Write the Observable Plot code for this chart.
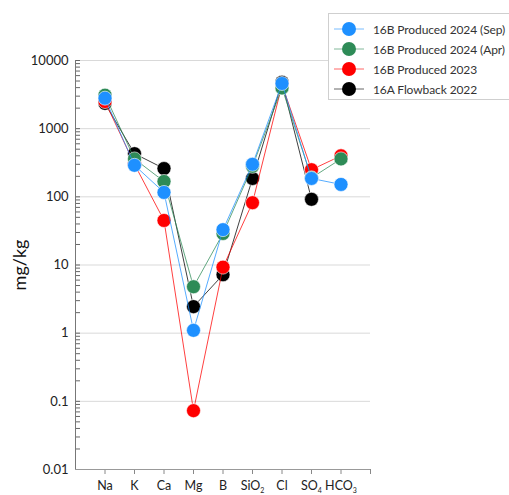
<!DOCTYPE html>
<html><head><meta charset="utf-8">
<script src="https://cdn.jsdelivr.net/npm/d3@7"></script>
<script src="https://cdn.jsdelivr.net/npm/@observablehq/plot@0.6"></script>
<style>
body{margin:0;background:#fff;font-family:Lato,"Open Sans",sans-serif;}
#wrap{position:relative;width:509px;height:495px;overflow:hidden;}
#legend{position:absolute;left:328px;top:13px;width:200px;height:87px;border:1px solid #cfcfcf;background:#fff;box-sizing:border-box;}
.lg{position:absolute;left:4px;height:20px;display:flex;align-items:center;font-size:12px;letter-spacing:-0.1px;color:#333;white-space:nowrap;}
.lg svg{margin-right:8px;}
</style></head>
<body><div id="wrap"><div id="chart"></div><div id="legend"></div></div>
<script>
const categories = ["Na","K","Ca","Mg","B","SiO₂","Cl","SO₄","HCO₃"];
const seriesNames = ["16B Produced 2024 (Sep)","16B Produced 2024 (Apr)","16B Produced 2023","16A Flowback 2022"];
const seriesColors = ["#1e90ff","#2e8b57","#ff0000","#000000"];
const sep2024 = [2800, 290, 116, 1.1, 33, 300, 4600, 186, 152];
const apr2024 = [3100, 360, 168, 4.8, 29, 280, 3950, 190, 360];
const prod2023 = [2500, 300, 45, 0.073, 9.3, 82, 4400, 250, 400];
const flow2022 = [2350, 430, 260, 2.45, 7.2, 186, 4800, 92, null];
const majorTicks = [0.01, 0.1, 1, 10, 100, 1000, 10000];
const majorLabels = ["0.01","0.1","1","10","100","1000","10000"];

const seriesValues = [sep2024, apr2024, prod2023, flow2022];
const rows = [];
seriesValues.forEach((vals, s) => vals.forEach((v, i) => {
  if (v != null) rows.push({series: seriesNames[s], color: seriesColors[s], xi: i + 1, v, order: s});
}));
const minorTicks = [];
for (let e = -2; e < 4; e++) for (let m = 1; m <= 9; m++) minorTicks.push(m * Math.pow(10, e));
minorTicks.push(10000);

const drawOrder = [3, 2, 1, 0];
const seriesMarks = drawOrder.flatMap(s => {
  const d = rows.filter(r => r.order === s);
  return [
    Plot.line(d, {x: "xi", y: "v", stroke: seriesColors[s], strokeWidth: 1, strokeOpacity: 0.75}),
    Plot.dot(d, {x: "xi", y: "v", r: 7, fill: seriesColors[s], stroke: "#ffffff", strokeWidth: 0.6})
  ];
});

const chart = Plot.plot({
  width: 509, height: 495,
  marginTop: 60, marginBottom: 26, marginLeft: 75, marginRight: 139,
  style: {fontFamily: "Lato, 'Open Sans', sans-serif", fontSize: "13px", color: "#222", background: "#fff"},
  x: {type: "linear", domain: [0, 10], axis: null},
  y: {type: "log", domain: [0.01, 10000], axis: null},
  marks: [
    Plot.ruleY(majorTicks, {stroke: "#d9d9d9", strokeWidth: 1}),
    Plot.axisY(minorTicks, {anchor: "left", tickSize: 5, dx: 5, tickFormat: () => "", stroke: "#666", label: null}),
    Plot.axisY(majorTicks, {anchor: "left", tickSize: 0, tickPadding: 7, tickFormat: d => majorLabels[majorTicks.indexOf(d)], label: null, fontSize: 13}),
    Plot.axisX(d3.range(1, 11), {anchor: "bottom", tickSize: 5, tickPadding: 7, tickFormat: i => categories[i - 1] ?? "", stroke: "#888", label: null, fontSize: 12.5}),
    Plot.ruleX([0], {stroke: "#777", strokeWidth: 1}),
    Plot.ruleY([0.01], {stroke: "#999", strokeWidth: 1}),
    Plot.text(["mg/kg"], {frameAnchor: "left", textAnchor: "middle", dx: -55, rotate: -90, fontSize: 18, fill: "#111"}),
    ...seriesMarks
  ]
});
document.getElementById("chart").appendChild(chart);

// render unicode subscripts as small lowered digits
const subMap = {"₂": "2", "₃": "3", "₄": "4"};
chart.querySelectorAll("text").forEach(t => {
  const s = t.textContent;
  if (!/[₂₃₄]/.test(s)) return;
  const base = s.replace(/[₂₃₄]/g, "");
  const sub = subMap[s.match(/[₂₃₄]/)[0]];
  while (t.firstChild) t.removeChild(t.firstChild);
  const ns = "http://www.w3.org/2000/svg";
  const a = document.createElementNS(ns, "tspan"); a.textContent = base;
  const b = document.createElementNS(ns, "tspan"); b.textContent = sub;
  b.setAttribute("font-size", "7"); b.setAttribute("dy", "3");
  t.appendChild(a); t.appendChild(b);
});

const legend = document.getElementById("legend");
seriesNames.forEach((name, s) => {
  const div = document.createElement("div");
  div.className = "lg";
  div.style.top = (5 + 20 * s) + "px";
  div.innerHTML = `<svg width="32" height="18"><line x1="1" x2="31" y1="9" y2="9" stroke="${seriesColors[s]}" stroke-opacity="0.6" stroke-width="1"/><circle cx="16" cy="9" r="7" fill="${seriesColors[s]}"/></svg><span></span>`;
  div.querySelector("span").textContent = name;
  legend.appendChild(div);
});
</script></body></html>
